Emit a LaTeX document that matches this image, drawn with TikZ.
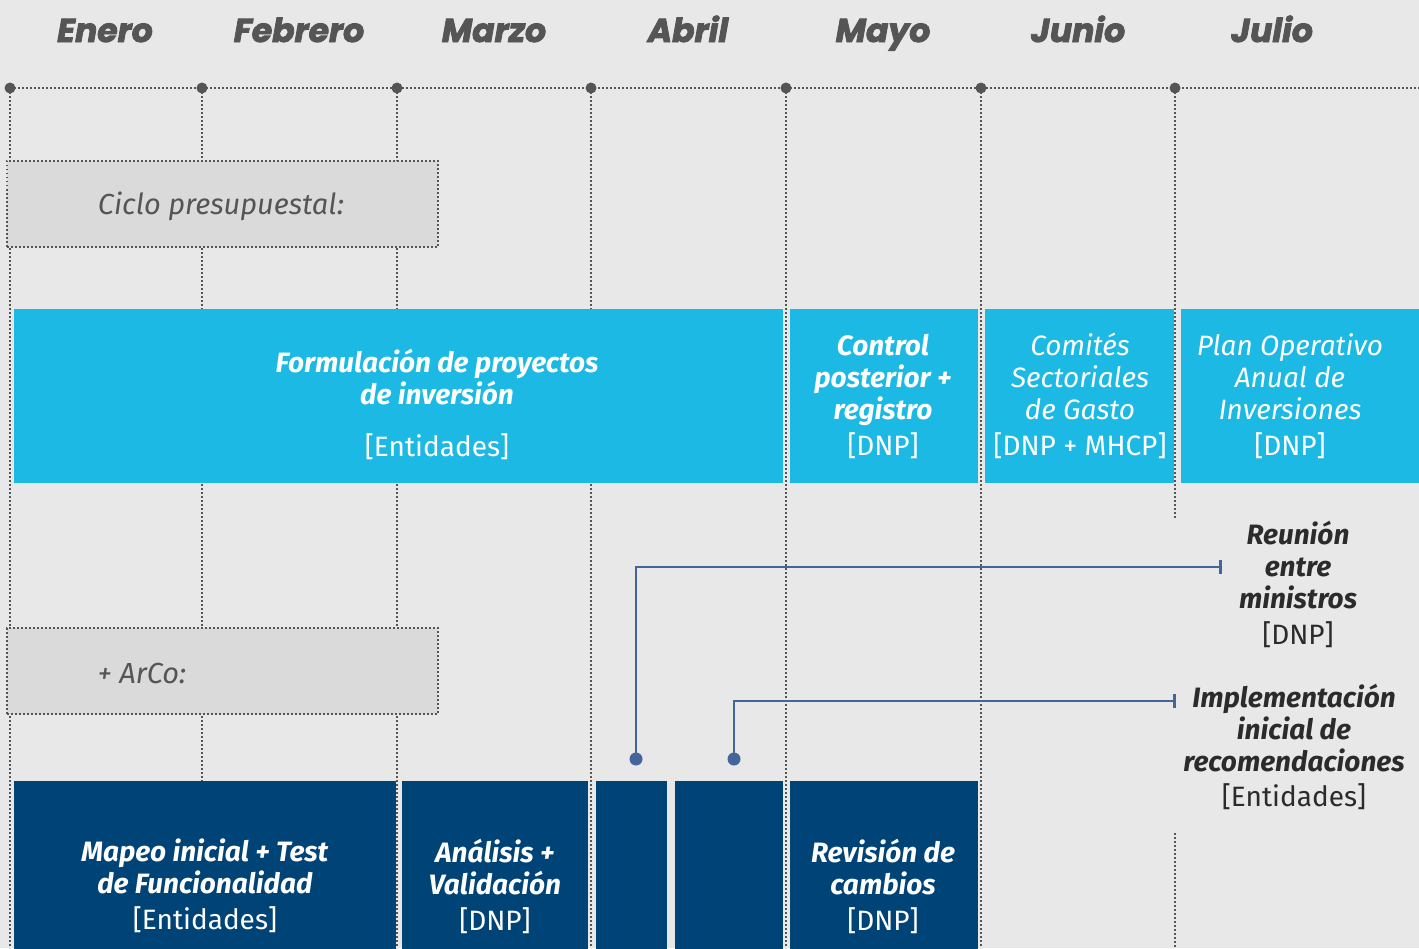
\documentclass[tikz,border=0pt]{standalone}
\usepackage{fontspec}
\setmainfont{Fira Sans}
\newfontfamily\headfont{Poppins}[BoldItalicFeatures={FakeBold=2.5}]
\usetikzlibrary{arrows.meta}
\definecolor{bgc}{HTML}{E8E8E8}
\definecolor{gridc}{HTML}{555555}
\definecolor{grayboxc}{HTML}{DADADA}
\definecolor{cyanc}{HTML}{1CB9E5}
\definecolor{navyc}{HTML}{004377}
\definecolor{connc}{HTML}{44659A}
\definecolor{annc}{HTML}{2B2B2B}
\newcommand\BoldIt[1]{\textbf{\textit{#1}}}
\tikzset{
  month/.style={text=gridc, anchor=base, font=\headfont\bfseries\itshape\fontsize{33}{36}\selectfont},
  gridline/.style={draw=gridc, line width=1.8pt, dash pattern=on 1.6pt off 2.4pt},
  griddot/.style={circle, fill=gridc, inner sep=0pt, minimum size=11pt},
  graybox/.style={fill=grayboxc, draw=gridc, line width=1.8pt, dash pattern=on 1.6pt off 2.4pt, inner sep=0pt, anchor=north west},
  graytext/.style={text=gridc, font=\itshape\fontsize{29}{32}\selectfont},
  cyanbox/.style={fill=cyanc, inner sep=0pt, anchor=north west},
  navybox/.style={fill=navyc, inner sep=0pt, anchor=north west},
  boxtext/.style={text=white, align=center, font=\fontsize{28}{32}\selectfont},
  anntext/.style={text=annc, align=center, font=\fontsize{28}{32}\selectfont},
  conn/.style={draw=connc, line width=2.8pt},
  conndot/.style={circle, fill=connc, inner sep=0pt, minimum width=11pt, minimum height=13pt},
}
\begin{document}
\begin{tikzpicture}[x=1pt,y=-1pt]
\clip (0,0) rectangle (1419,948);
\fill[bgc] (0,0) rectangle (1419,948);

% month labels
\node[month] (m1) at (105,42) {Enero};
\node[month] (m2) at (299,42) {Febrero};
\node[month] (m3) at (494,42) {Marzo};
\node[month] (m4) at (688,42) {Abril};
\node[month] (m5) at (883,42) {Mayo};
\node[month] (m6) at (1078,42) {Junio};
\node[month] (m7) at (1272,42) {Julio};

% grid
\draw[gridline] (10,88) -- (1419,88);
\foreach \x in {10,202,397,591,786,981}{
  \draw[gridline] (\x,88) -- (\x,948);
}
\draw[gridline] (1175,88) -- (1175,518);
\draw[gridline] (1175,833) -- (1175,948);
\foreach \x/\n in {10/1,202/2,397/3,591/4,786/5,981/6,1175/7}{
  \node[griddot] (g\n) at (\x,88) {};
}

% gray boxes
\node[graybox, minimum width=431pt, minimum height=86pt] (ciclo) at (6,160) {};
\node[graytext] (ciclot) at (221,206) {Ciclo presupuestal:};
\node[graybox, minimum width=431pt, minimum height=86pt] (arco) at (6,627) {};
\node[graytext, anchor=west] (arcot) at (94,673) {+ ArCo:};

% cyan row
\node[cyanbox, minimum width=769pt, minimum height=174pt] (c1) at (14,309) {};
\node[cyanbox, minimum width=188pt, minimum height=174pt] (c2) at (790,309) {};
\node[cyanbox, minimum width=189pt, minimum height=174pt] (c3) at (985,309) {};
\node[cyanbox, minimum width=250pt, minimum height=174pt] (c4) at (1181,309) {};

\node[boxtext] (c1t) at (437,404) {\BoldIt{Formulación de proyectos}\\\BoldIt{de inversión}\\[20pt]\relax[Entidades]};
\node[boxtext] (c2t) at (883,396) {\BoldIt{Control}\\\BoldIt{posterior +}\\\BoldIt{registro}\\[4pt]\relax[DNP]};
\node[boxtext] (c3t) at (1080,396) {\textit{Comités}\\\textit{Sectoriales}\\\textit{de Gasto}\\[4pt]\relax[DNP + MHCP]};
\node[boxtext] (c4t) at (1290,396) {\textit{Plan Operativo}\\\textit{Anual de}\\\textit{Inversiones}\\[4pt]\relax[DNP]};

% navy row
\node[navybox, minimum width=382pt, minimum height=200pt] (n1) at (14,781) {};
\node[navybox, minimum width=186pt, minimum height=200pt] (n2) at (402,781) {};
\node[navybox, minimum width=71pt, minimum height=200pt] (n3) at (596,781) {};
\node[navybox, minimum width=108pt, minimum height=200pt] (n4) at (675,781) {};
\node[navybox, minimum width=188pt, minimum height=200pt] (n5) at (790,781) {};

\node[boxtext] (n1t) at (205,886) {\BoldIt{Mapeo inicial + Test}\\\BoldIt{de Funcionalidad}\\[4pt]\relax[Entidades]};
\node[boxtext] (n2t) at (495,886) {\BoldIt{Análisis +}\\\BoldIt{Validación}\\[4pt]\relax[DNP]};
\node[boxtext] (n5t) at (883,886) {\BoldIt{Revisión de}\\\BoldIt{cambios}\\[4pt]\relax[DNP]};

% annotations
\node[anntext] (reu) at (1298,584) {\BoldIt{Reunión}\\\BoldIt{entre}\\\BoldIt{ministros}\\[4pt]\relax[DNP]};
\node[anntext] (imp) at (1294,747) {\BoldIt{Implementación}\\\BoldIt{inicial de}\\\BoldIt{recomendaciones}\\[3pt]\relax[Entidades]};

% connectors
\node[conndot] (d1) at (636,759) {};
\node[conndot] (d2) at (734,759) {};
\coordinate (b1) at (1222,567);
\coordinate (b2) at (1176,701);
\draw[conn, -{Bar[width=14pt, line width=2.8pt]}] (d1.center) |- (b1);
\draw[conn, -{Bar[width=14pt, line width=2.8pt]}] (d2.center) |- (b2);
\end{tikzpicture}
\end{document}
